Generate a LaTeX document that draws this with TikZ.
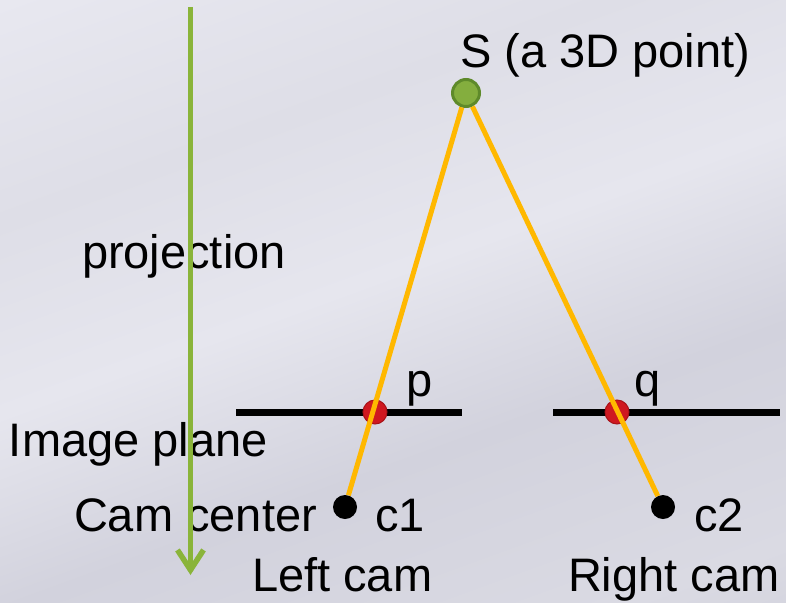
\documentclass[tikz,border=0pt]{standalone}
\usepackage{fontspec}
\setmainfont{Liberation Sans}
\usetikzlibrary{arrows.meta}
\definecolor{bg1}{HTML}{E8E8F0}
\definecolor{bg2}{HTML}{DEDEE7}
\definecolor{bg3}{HTML}{E6E6EE}
\definecolor{bg4}{HTML}{D2D2DD}
\definecolor{bg5}{HTML}{DADAE3}
\definecolor{bg6}{HTML}{C4C4D0}
\definecolor{arrowgreen}{HTML}{8AB43A}
\definecolor{sfill}{HTML}{84AE3E}
\definecolor{sborder}{HTML}{5E8A2A}
\definecolor{rayyellow}{HTML}{FFB800}
\definecolor{ptred}{HTML}{CF1820}
\definecolor{ptredborder}{HTML}{A81218}
\pgfdeclareverticalshading{bgshade}{100bp}{color(0bp)=(bg6); color(22bp)=(bg5); color(38bp)=(bg4); color(52bp)=(bg3); color(66bp)=(bg2); color(82bp)=(bg1); color(100bp)=(bg1)}
\tikzset{
  lbl/.style={anchor=base west, inner sep=0pt, outer sep=0pt, font=\fontsize{47}{56}\selectfont, text=black},
  spoint/.style={circle, fill=sfill, draw=sborder, line width=3pt, minimum size=27pt, inner sep=0pt},
  imgpt/.style={circle, fill=ptred, draw=ptredborder, line width=1pt, minimum size=24pt, inner sep=0pt},
  campt/.style={circle, fill=black, minimum size=24pt, inner sep=0pt},
  ray/.style={draw=rayyellow, line width=5pt},
  plane/.style={draw=black, line width=7pt},
  projarrow/.style={draw=arrowgreen, line width=5.5pt, -{Straight Barb[length=20pt,width=26pt]}}
}
\begin{document}
\begin{tikzpicture}[x=1pt,y=-1pt]
\useasboundingbox (0,0) rectangle (786,602);
% background
\shade[shading=bgshade, shading angle=20] (0,0) rectangle (786,602);
% image planes
\coordinate (pl1a) at (236,412);
\coordinate (pl1b) at (462,412);
\coordinate (pl2a) at (553,412);
\coordinate (pl2b) at (780,412);
\draw[plane] (pl1a) -- (pl1b);
\draw[plane] (pl2a) -- (pl2b);
% points
\node[imgpt] (p) at (375,412) {};
\node[imgpt] (q) at (617,412) {};
\node[spoint] (S) at (466,93) {};
\node[campt] (c1) at (345,507) {};
\node[campt] (c2) at (663,507) {};
% rays
\draw[ray] (S) -- (c1);
\draw[ray] (S) -- (c2);
% labels
\node[lbl] (lS) at (460,67) {S (a 3D point)};
\node[lbl] (lproj) at (82,268) {projection};
\node[lbl] (lp) at (406,396) {p};
\node[lbl] (lq) at (634,396) {q};
\node[lbl] (limg) at (9,456) {Image plane};
\node[lbl] (lcc) at (74,531) {Cam center};
\node[lbl] (lc1) at (375,531) {c1};
\node[lbl] (lc2) at (694,531) {c2};
\node[lbl] (lleft) at (252,591) {Left cam};
\node[lbl] (lright) at (568,591) {Right cam};
% projection arrow
\coordinate (arrtop) at (190.5,7);
\coordinate (arrbot) at (190.5,575);
\draw[projarrow] (arrtop) -- (arrbot);
\end{tikzpicture}
\end{document}
